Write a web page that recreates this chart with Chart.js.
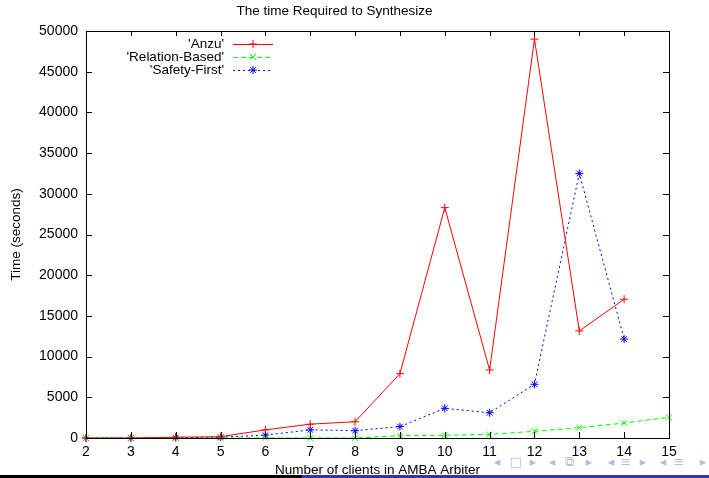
<!DOCTYPE html>
<html>
<head>
<meta charset="utf-8">
<script src="https://cdn.jsdelivr.net/npm/chart.js@4"></script>
<style>
  html, body { margin: 0; padding: 0; background: #fff; }
  #wrap { position: relative; width: 709px; height: 478px; overflow: hidden; }
  #synthChart { position: absolute; left: 0; top: 0; }
  .bar-black { position: absolute; left: 0; top: 475px; width: 302px; height: 3px; background: #000; }
  .bar-blue { position: absolute; left: 302px; top: 475px; width: 407px; height: 3px; background: #3333b2; }
  .nav span { position: absolute; top: 453px; font-family: "DejaVu Sans", sans-serif;
              font-size: 13px; color: #b8b8e6; line-height: 18px; transform: translateX(-50%); }
</style>
</head>
<body>
<div id="wrap">
  <canvas id="synthChart" width="709" height="478"></canvas>
  <div class="nav">
    <span style="left:497px">◂</span><span style="left:516px">□</span><span style="left:533px">▸</span>
    <span style="left:552px">◂</span><span style="left:569px">⧉</span><span style="left:589px">▸</span>
    <span style="left:611px">◂</span><span style="left:626px">≡</span><span style="left:643px">▸</span>
    <span style="left:663px">◂</span><span style="left:679px">≡</span><span style="left:703px">▸</span>
  </div>
  <div class="bar-black"></div>
  <div class="bar-blue"></div>
</div>
<script>
// number of clients (x values)
const clients = [2, 3, 4, 5, 6, 7, 8, 9, 10, 11, 12, 13, 14, 15];

// synthesis times in seconds
const anzuTimes     = [0, 0, 100, 160, 1000, 1700, 2000, 7900, 28300, 8350, 49000, 13150, 17050, null];
const relationTimes = [0, 0, 0, 0, 0, 0, 0, 280, 330, 450, 820, 1270, 1840, 2540];
const safetyTimes   = [0, 0, 50, 100, 350, 1000, 900, 1400, 3650, 3100, 6600, 32500, 12150, null];

const yTicks = [0, 5000, 10000, 15000, 20000, 25000, 30000, 35000, 40000, 45000, 50000];

const FONT = "'Liberation Sans', Arial, Helvetica, sans-serif";

function toPoints(vals) {
    return clients.map((c, i) => ({ x: c, y: vals[i] })).filter(p => p.y !== null);
}

// gnuplot style frame with inward ticks on all four sides
const frameTicks = {
    id: "frameTicks",
    afterDatasetsDraw(chart) {
        const ctx = chart.ctx;
        const a = chart.chartArea;
        const xs = chart.scales.x;
        const ys = chart.scales.y;
        ctx.save();
        ctx.strokeStyle = "#000";
        ctx.lineWidth = 1;
        ctx.beginPath();
        yTicks.forEach(v => {
            const py = Math.round(ys.getPixelForValue(v)) + 0.5;
            ctx.moveTo(a.left, py); ctx.lineTo(a.left + 6, py);
            ctx.moveTo(a.right, py); ctx.lineTo(a.right - 6, py);
        });
        clients.forEach(v => {
            const px = Math.round(xs.getPixelForValue(v)) + 0.5;
            ctx.moveTo(px, a.bottom); ctx.lineTo(px, a.bottom - 6);
            ctx.moveTo(px, a.top); ctx.lineTo(px, a.top + 5);
        });
        ctx.stroke();
        ctx.strokeRect(Math.round(a.left) + 0.5, Math.round(a.top) + 0.5,
                       Math.round(a.right - a.left), Math.round(a.bottom - a.top));
        ctx.restore();
    }
};

// legend: label right aligned, sample line to its right
const keyLegend = {
    id: "keyLegend",
    afterDraw(chart) {
        const ctx = chart.ctx;
        ctx.save();
        ctx.font = "13.5px " + FONT;
        ctx.textAlign = "right";
        ctx.textBaseline = "middle";
        chart.data.datasets.forEach((ds, i) => {
            const y = 44 + i * 13;
            ctx.fillStyle = "#000";
            ctx.fillText(ds.label, 224, y);
            ctx.strokeStyle = ds.borderColor;
            ctx.lineWidth = 1;
            ctx.setLineDash(ds.borderDash || []);
            ctx.beginPath();
            ctx.moveTo(233, y + 0.5);
            ctx.lineTo(273, y + 0.5);
            ctx.stroke();
            ctx.setLineDash([]);
            Chart.helpers.drawPoint(ctx, {
                pointStyle: ds.pointStyle, radius: 4, rotation: 0, borderWidth: 1
            }, 253, y);
        });
        ctx.restore();
    }
};

const ctx = document.getElementById("synthChart").getContext("2d");
new Chart(ctx, {
    type: "line",
    data: {
        datasets: [
            {
                label: "'Anzu'",
                data: toPoints(anzuTimes),
                borderColor: "#ff0000",
                backgroundColor: "#ff0000",
                pointStyle: "cross",
                borderDash: []
            },
            {
                label: "'Relation-Based'",
                data: toPoints(relationTimes),
                borderColor: "#00ff00",
                backgroundColor: "#00ff00",
                pointStyle: "crossRot",
                borderDash: [5, 3]
            },
            {
                label: "'Safety-First'",
                data: toPoints(safetyTimes),
                borderColor: "#0000ff",
                backgroundColor: "#0000ff",
                pointStyle: "star",
                borderDash: [2, 3]
            }
        ]
    },
    options: {
        responsive: false,
        animation: false,
        devicePixelRatio: 1,
        layout: { padding: { left: 0, right: 40, top: 0, bottom: 0 } },
        elements: {
            line: { borderWidth: 1, tension: 0, fill: false },
            point: { radius: 4, hoverRadius: 4, borderWidth: 1 }
        },
        datasets: { line: { clip: false } },
        plugins: {
            legend: { display: false },
            tooltip: { enabled: false },
            title: {
                display: true,
                text: "The time Required to Synthesize",
                color: "#000",
                font: { family: FONT, size: 13.5, weight: "normal" },
                padding: { top: 3, bottom: 11.8 }
            }
        },
        scales: {
            x: {
                type: "linear",
                min: 2,
                max: 15,
                border: { display: false },
                grid: { display: false, drawTicks: false },
                ticks: {
                    stepSize: 1,
                    color: "#000",
                    padding: 6,
                    font: { family: FONT, size: 14 },
                    maxRotation: 0
                },
                title: {
                    display: true,
                    text: "Number of clients in AMBA Arbiter",
                    color: "#000",
                    font: { family: FONT, size: 13.5 },
                    padding: { top: 0, bottom: 0 }
                },
                afterFit(scale) { scale.height = 40; }
            },
            y: {
                min: 0,
                max: 50000,
                border: { display: false },
                grid: { display: false, drawTicks: false },
                afterBuildTicks(scale) { scale.ticks = yTicks.map(v => ({ value: v })); },
                ticks: {
                    color: "#000",
                    padding: 8,
                    font: { family: FONT, size: 14 },
                    callback: v => String(v)
                },
                title: {
                    display: true,
                    text: "Time (seconds)",
                    color: "#000",
                    font: { family: FONT, size: 13.5 },
                    padding: { top: 8, bottom: 0 }
                },
                afterFit(scale) { scale.width = 86; }
            }
        }
    },
    plugins: [frameTicks, keyLegend]
});
</script>
</body>
</html>
